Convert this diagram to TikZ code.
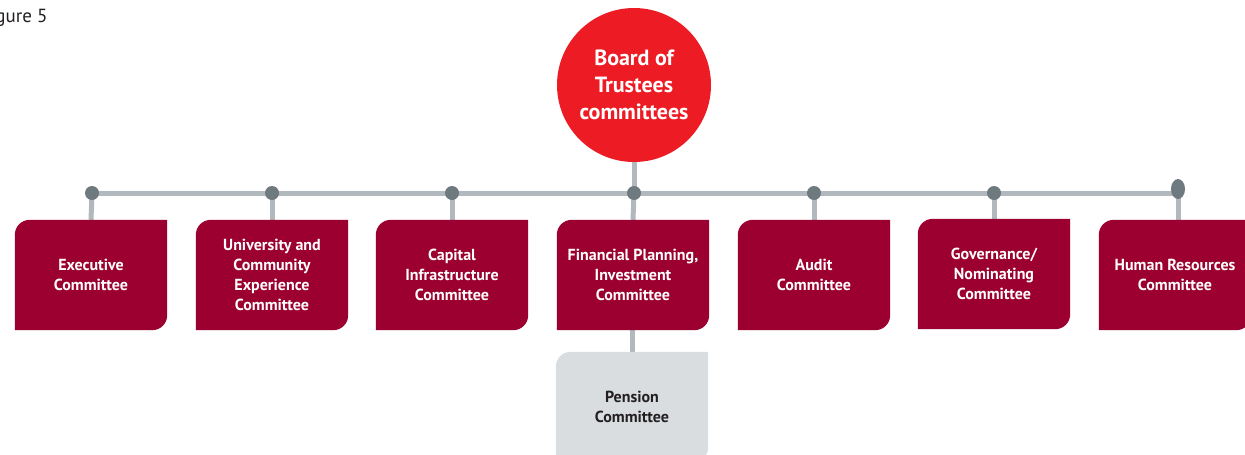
\documentclass[tikz,border=0pt]{standalone}
\usepackage{fontspec}
\setmainfont{PT Sans}
\usetikzlibrary{backgrounds,shapes.geometric}
\definecolor{boxred}{HTML}{9B0030}
\definecolor{circred}{HTML}{ED1C24}
\definecolor{pengray}{HTML}{D9DDE0}
\definecolor{linegray}{HTML}{B1B9BE}
\definecolor{dotgray}{HTML}{6E7A80}
\definecolor{txtdark}{HTML}{231F20}
\newcommand\committeeshape[2]{\fill[#2] (#1.south west) -- ([yshift=-15pt]#1.north west) arc[start angle=180,end angle=90,radius=15pt] -- (#1.north east) -- ([yshift=15pt]#1.south east) arc[start angle=0,end angle=-90,radius=15pt] -- cycle;}
\begin{document}
\begin{tikzpicture}[x=1pt,y=1pt,
  cbox/.style={minimum width=152pt, minimum height=110pt, inner sep=0pt, align=center, text=white, font=\fontsize{16}{20}\selectfont\bfseries},
  pbox/.style={cbox, text=txtdark},
  conn/.style={draw=linegray, line width=5pt},
  jdot/.style={circle, fill=dotgray, minimum size=14pt, inner sep=0pt}]
\useasboundingbox (0,0) rectangle (1245,-455);
\node[anchor=base east, font=\fontsize{19}{22}\selectfont, text=txtdark] (fig) at (51,-22) {Figure 5};
\node[circle, fill=circred, minimum size=154pt, inner sep=0pt, text=white, align=center, font=\fontsize{22}{27}\selectfont\bfseries] (board) at (634,-85) {Board of\\Trustees\\committees};
% dots
\node[jdot] (d1) at (92,-193) {};
\node[jdot] (d2) at (272,-193) {};
\node[jdot] (d3) at (452,-193) {};
\node[jdot] (d4) at (634,-193) {};
\node[jdot] (d5) at (814,-193) {};
\node[jdot] (d6) at (994,-193) {};
\node[ellipse, fill=dotgray, minimum width=14pt, minimum height=20pt, inner sep=0pt] (d7) at (1178,-189) {};
% committees
\node[cbox] (exe) at (91,-275) {Executive\\Committee};
\node[cbox] (uni) at (272,-275) {University and\\Community\\Experience\\Committee};
\node[cbox] (cap) at (452,-275) {Capital\\Infrastructure\\Committee};
\node[cbox] (fin) at (633,-275) {Financial Planning,\\Investment\\Committee};
\node[cbox] (aud) at (814,-275) {Audit\\Committee};
\node[cbox] (gov) at (994,-274) {Governance/\\Nominating\\Committee};
\node[cbox] (hr) at (1175,-275) {Human Resources\\Committee};
\node[pbox] (pen) at (632,-407) {Pension\\Committee};
\begin{scope}[on background layer]
\draw[conn] (d1.center) -- (d1.center -| d7.center);
\draw[conn] (board.south) -- (d4.center);
\draw[conn] (d1.center) -- (exe.north);
\draw[conn] (d2.center) -- (uni.north);
\draw[conn] (d3.center) -- (cap.north);
\draw[conn] (d4.center) -- (fin.north);
\draw[conn] (d5.center) -- (aud.north);
\draw[conn] (d6.center) -- (gov.north);
\draw[conn] (d7.center) -- (d7.center |- hr.north);
\draw[conn] (fin.south -| pen.north) -- (pen.north);
\committeeshape{exe}{boxred}
\committeeshape{uni}{boxred}
\committeeshape{cap}{boxred}
\committeeshape{fin}{boxred}
\committeeshape{aud}{boxred}
\committeeshape{gov}{boxred}
\committeeshape{hr}{boxred}
\committeeshape{pen}{pengray}
\end{scope}
\end{tikzpicture}
\end{document}
